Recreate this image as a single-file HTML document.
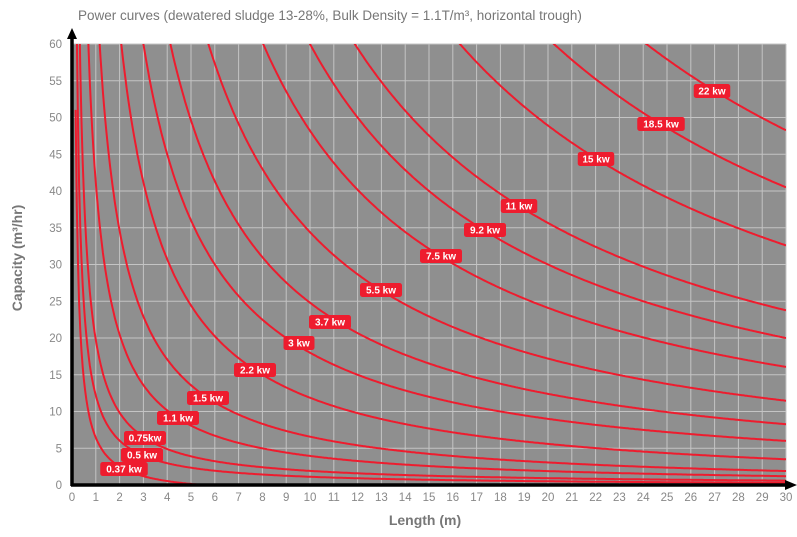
<!DOCTYPE html>
<html><head><meta charset="utf-8"><style>
body{margin:0;background:#fff;width:797px;height:532px;overflow:hidden;font-family:"Liberation Sans",sans-serif}
</style></head><body>
<svg id="s" width="797" height="532" xmlns="http://www.w3.org/2000/svg" font-family="Liberation Sans, sans-serif">
<defs><clipPath id="c"><rect x="72" y="44" width="714" height="441"/></clipPath></defs>
<text x="78" y="20" font-size="13.5" fill="#777">Power curves (dewatered sludge 13-28%, Bulk Density = 1.1T/m³, horizontal trough)</text>
<rect x="72" y="44" width="714" height="441" fill="#8f8f8f"/>
<g id="grid" stroke="#c4c4c4" stroke-width="1"></g>
<g id="curves" clip-path="url(#c)" fill="none" stroke="#ee1c2e" stroke-width="2"></g>
<g id="labels"></g>
<line x1="72" y1="486" x2="72" y2="38" stroke="#000" stroke-width="3.5"/>
<polygon points="72,28 67,39 77,39" fill="#000"/>
<line x1="71" y1="485" x2="786" y2="485" stroke="#000" stroke-width="3.5"/>
<polygon points="797,485 785,480 785,490" fill="#000"/>
<g id="ticks" font-size="11.5" fill="#888"></g>
<text x="425" y="525" font-size="14" font-weight="bold" fill="#777" text-anchor="middle">Length (m)</text>
<text transform="translate(22,258) rotate(-90)" font-size="14" font-weight="bold" fill="#777" text-anchor="middle">Capacity (m³/hr)</text>
</svg>
<script>
var NS="http://www.w3.org/2000/svg";
function X(L){return 72+L*23.8}function Y(C){return 485-C*7.35}
function el(t,a,p,txt){var e=document.createElementNS(NS,t);for(var k in a)e.setAttribute(k,a[k]);if(txt!==undefined)e.textContent=txt;document.getElementById(p).appendChild(e);return e}
for(var i=1;i<=30;i++)el("line",{x1:X(i),y1:44,x2:X(i),y2:485},"grid");
for(var j=5;j<=60;j+=5)el("line",{x1:72,y1:Y(j),x2:786,y2:Y(j)},"grid");
for(var i=0;i<=30;i++)el("text",{x:X(i),y:501,"text-anchor":"middle"},"ticks",String(i));
for(var j=0;j<=60;j+=5)el("text",{x:62,y:Y(j)+4,"text-anchor":"end"},"ticks",String(j));
var curves=[[1448,0],[1215,0],[978,0],[713,0],[600,0],[482,0],[344,0],[248,0],[180,0],[125.6,0.687],[70.1,0.437],[41.3,0.176],[19.8,0.06],[12.3,0.11],[7.87,1.43]];
curves.forEach(function(c){var d="";for(var L=0.05;L<=30.01;L+=0.05){var C=c[0]/L-c[1];if(C<0)C=0;if(C>70)continue;d+=(d?"L":"M")+X(L).toFixed(1)+" "+Y(C).toFixed(1)}el("path",{d:d},"curves")});
var labs=[["22 kw",712,91],["18.5 kw",661,124],["15 kw",596,159],["11 kw",519,206],["9.2 kw",485,230],["7.5 kw",441,256],["5.5 kw",381,290],["3.7 kw",330,322],["3 kw",299,343],["2.2 kw",255,370],["1.5 kw",208,398],["1.1 kw",178,418],["0.75kw",145,438],["0.5 kw",142,455],["0.37 kw",124,469]];
labs.forEach(function(l){var w=l[0].length*5.5+9;el("rect",{x:l[1]-w/2,y:l[2]-7,width:w,height:14,rx:2.5,fill:"#ee1c2e"},"labels");el("text",{x:l[1],y:l[2]+3.5,"text-anchor":"middle","font-size":"10","font-weight":"bold",fill:"#fff"},"labels",l[0])});
</script>
</body></html>
